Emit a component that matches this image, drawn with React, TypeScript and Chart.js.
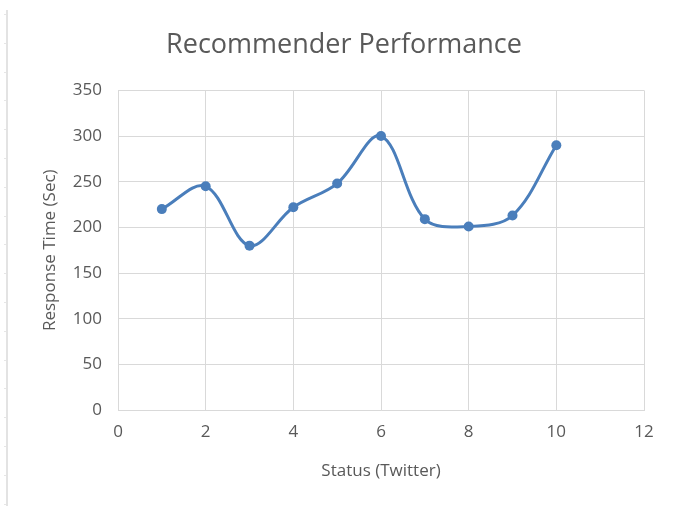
import React, { useEffect, useRef } from "react";
import { Chart, registerables } from "chart.js";

Chart.register(...registerables);

const xValues = [1, 2, 3, 4, 5, 6, 7, 8, 9, 10];
const responseTimes = [220, 245, 180, 222, 248, 300, 209, 201, 213, 290];
const chartTitle = "Recommender Performance";
const xAxisTitle = "Status (Twitter)";
const yAxisTitle = "Response Time (Sec)";

const FONT = "'Open Sans', 'Liberation Sans', sans-serif";
const TEXT = "#595959";
const GRID = "#d9d9d9";
const BLUE = "#4a7ebb";

export default function App() {
  const ref = useRef<HTMLCanvasElement | null>(null);

  useEffect(() => {
    document.body.style.margin = "0";
    const canvas = ref.current;
    if (!canvas) return;
    const chart = new Chart(canvas, {
      type: "line",
      data: {
        datasets: [
          {
            data: xValues.map((x, i) => ({ x, y: responseTimes[i] })),
            borderColor: BLUE,
            backgroundColor: BLUE,
            borderWidth: 3,
            pointRadius: 5,
            pointBackgroundColor: BLUE,
            pointBorderColor: BLUE,
            pointBorderWidth: 0,
            tension: 0.35,
            fill: false,
            yAxisID: "y",
          },
        ],
      },
      options: {
        animation: false,
        responsive: false,
        maintainAspectRatio: false,
        layout: { padding: { left: 11, right: 0, top: 0, bottom: 0 } },
        plugins: {
          legend: { display: false },
          tooltip: { enabled: false },
          title: {
            display: true,
            text: chartTitle,
            color: TEXT,
            font: { family: FONT, size: 27, weight: "normal" },
            padding: { top: 29, bottom: 29 },
          },
        },
        scales: {
          x: {
            type: "linear",
            min: 0,
            max: 12,
            ticks: {
              stepSize: 2,
              color: TEXT,
              font: { family: FONT, size: 17 },
              padding: 12,
              maxRotation: 0,
            },
            grid: { color: GRID, lineWidth: 1, drawTicks: false },
            border: { color: GRID, width: 1 },
            title: {
              display: true,
              text: xAxisTitle,
              color: TEXT,
              font: { family: FONT, size: 17 },
              padding: { top: 0, bottom: 25 },
            },
            afterFit: (s: any) => {
              s.height = 96;
            },
          },
          y: {
            type: "linear",
            position: "left",
            min: 0,
            max: 350,
            ticks: {
              stepSize: 50,
              color: TEXT,
              font: { family: FONT, size: 17 },
              padding: 16,
            },
            grid: { color: GRID, lineWidth: 1, drawTicks: false },
            border: { color: GRID, width: 1 },
            title: {
              display: true,
              text: yAxisTitle,
              color: TEXT,
              font: { family: FONT, size: 17 },
              padding: { top: 29, bottom: 0 },
            },
            afterFit: (s: any) => {
              s.width = 107;
            },
          },
          spacer: {
            type: "linear",
            position: "right",
            display: true,
            min: 0,
            max: 1,
            ticks: { display: false },
            grid: { display: false, drawTicks: false },
            border: { display: false },
            afterFit: (s: any) => {
              s.width = 33;
            },
          },
        },
      },
    });
    return () => chart.destroy();
  }, []);

  return (
    <div style={{ position: "relative", width: 677, height: 506, background: "#fff" }}>
      <div
        style={{
          position: "absolute",
          left: 6,
          top: 10,
          width: 2,
          height: 496,
          background: "#e3e3e3",
        }}
      />
      <div
        style={{
          position: "absolute",
          left: 4,
          top: 14,
          width: 2,
          height: 492,
          backgroundImage:
            "repeating-linear-gradient(to bottom, #e6e6e6 0px, #e6e6e6 1px, transparent 1px, transparent 28.8px)",
        }}
      />
      <canvas ref={ref} width={677} height={506} style={{ position: "absolute", left: 0, top: 0 }} />
    </div>
  );
}
